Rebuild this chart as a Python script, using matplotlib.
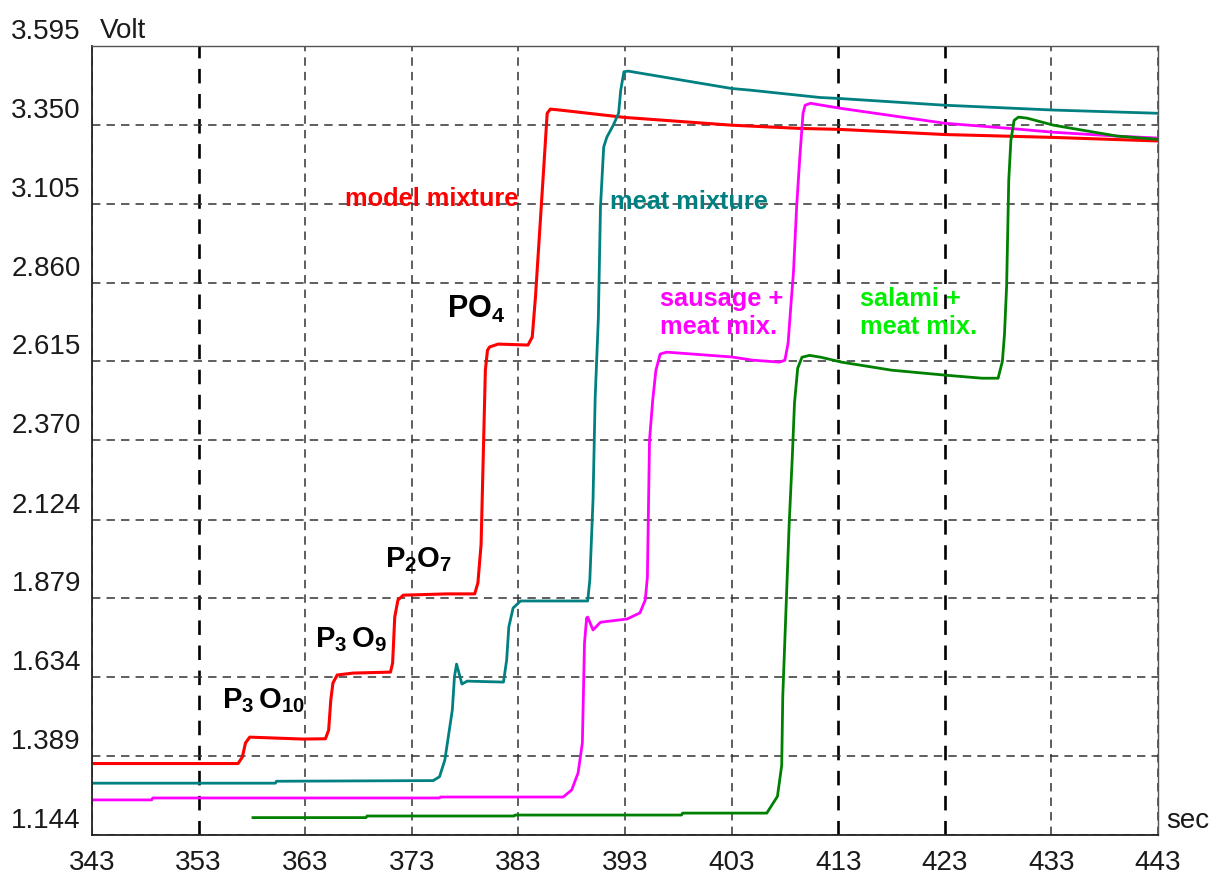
import matplotlib
matplotlib.use("Agg")
import matplotlib.pyplot as plt
import matplotlib.transforms as mtransforms

plt.rcParams["font.family"] = ["Liberation Sans", "DejaVu Sans"]
plt.rcParams["mathtext.fontset"] = "custom"
plt.rcParams["mathtext.rm"] = "Liberation Sans"
plt.rcParams["mathtext.bf"] = "Liberation Sans:bold"

# axis ticks
x_ticks = [343, 353, 363, 373, 383, 393, 403, 413, 423, 433, 443]
y_ticks = [1.144, 1.389, 1.634, 1.879, 2.124, 2.370, 2.615, 2.860, 3.105, 3.350, 3.595]
y_tick_labels = ["1.144", "1.389", "1.634", "1.879", "2.124", "2.370",
                 "2.615", "2.860", "3.105", "3.350", "3.595"]

# model mixture (red)
model_t = [343, 356.7, 357.1, 357.4, 357.8, 360.3, 362.8, 364.9, 365.2, 365.4,
           365.6, 366.0, 367.5, 371.0, 371.2, 371.4, 371.7, 372.2, 376.3, 378.9,
           379.2, 379.5, 379.9, 380.1, 380.3, 381.1, 383.9, 384.3, 384.6, 384.9,
           385.2, 385.5, 385.7, 386.0, 386.9, 393.0, 403.0, 409.4, 413.1, 423.0,
           433.2, 443.0]
model_v = [1.366, 1.366, 1.386, 1.430, 1.448, 1.445, 1.442, 1.443, 1.470, 1.563,
           1.616, 1.641, 1.647, 1.650, 1.678, 1.821, 1.874, 1.889, 1.893, 1.893,
           1.927, 2.047, 2.588, 2.650, 2.660, 2.669, 2.666, 2.691, 2.815, 2.970,
           3.125, 3.281, 3.386, 3.399, 3.396, 3.373, 3.349, 3.339, 3.336, 3.320,
           3.311, 3.300]

# meat mixture (teal)
meat_t = [343, 360.2, 360.3, 375.0, 375.6, 376.1, 376.8, 377.0, 377.2, 377.7,
          378.2, 381.6, 381.9, 382.1, 382.5, 383.2, 389.5, 389.7, 390.0, 390.2,
          390.5, 390.7, 391.0, 391.3, 391.9, 392.4, 392.6, 392.9, 393.3, 403.0,
          404.7, 411.3, 413.1, 423.0, 433.2, 443.0]
meat_v = [1.305, 1.305, 1.311, 1.313, 1.325, 1.377, 1.532, 1.635, 1.675, 1.613,
          1.622, 1.619, 1.688, 1.790, 1.849, 1.871, 1.871, 1.936, 2.185, 2.500,
          2.750, 3.095, 3.281, 3.312, 3.349, 3.386, 3.458, 3.515, 3.517, 3.463,
          3.458, 3.435, 3.432, 3.411, 3.396, 3.386]

# sausage + meat mix. (magenta)
sausage_t = [343, 348.6, 348.7, 375.6, 375.7, 387.2, 388.0, 388.6, 389.0, 389.1,
             389.2, 389.4, 389.5, 390.0, 390.7, 393.2, 394.4, 394.9, 395.1, 395.3,
             395.6, 395.9, 396.3, 396.9, 403.0, 405.0, 407.5, 408.0, 408.3, 408.6,
             408.8, 409.1, 409.4, 409.7, 409.9, 410.4, 413.1, 423.0, 429.1, 433.2,
             439.2, 443.0]
sausage_v = [1.253, 1.253, 1.259, 1.259, 1.262, 1.262, 1.284, 1.337, 1.430, 1.585,
             1.740, 1.818, 1.821, 1.781, 1.805, 1.815, 1.834, 1.874, 1.945, 2.371,
             2.495, 2.588, 2.638, 2.644, 2.629, 2.619, 2.613, 2.619, 2.672, 2.806,
             2.890, 3.095, 3.250, 3.386, 3.411, 3.417, 3.402, 3.355, 3.339, 3.327,
             3.315, 3.309]

# salami + meat mix. (green)
salami_t = [358.1, 368.7, 368.8, 382.6, 382.7, 398.3, 398.4, 406.3, 407.3, 407.7,
            407.8, 408.1, 408.4, 408.7, 408.9, 409.2, 409.6, 410.3, 411.4, 413.3,
            418.0, 423.2, 426.5, 428.0, 428.4, 428.6, 428.8, 429.0, 429.2, 429.5,
            429.9, 430.7, 433.2, 436.0, 439.2, 443.0]
salami_v = [1.198, 1.198, 1.203, 1.203, 1.206, 1.206, 1.212, 1.212, 1.264, 1.360,
            1.574, 1.842, 2.109, 2.323, 2.486, 2.594, 2.628, 2.634, 2.628, 2.613,
            2.588, 2.572, 2.563, 2.563, 2.615, 2.700, 2.850, 3.178, 3.302, 3.364,
            3.374, 3.371, 3.349, 3.333, 3.315, 3.305]

fig = plt.figure(figsize=(12.17, 8.74), dpi=100)
ax = fig.add_axes([92 / 1217, 39 / 874, (1158 - 92) / 1217, (835 - 46) / 874])

ax.plot(model_t, model_v, color="#ff0000", lw=2.2)
ax.plot(meat_t, meat_v, color="#008080", lw=2.0)
ax.plot(sausage_t, sausage_v, color="#ff00ff", lw=2.0)
ax.plot(salami_t, salami_v, color="#008000", lw=2.0)

ax.set_xlim(343, 443)
ax.set_ylim(1.144, 3.595)
ax.set_xticks(x_ticks)
ax.set_yticks(y_ticks)
ax.set_yticklabels(y_tick_labels)
ax.tick_params(length=0, labelsize=20, colors="#1a1a1a")
ax.tick_params(axis="x", pad=11)
ax.tick_params(axis="y", pad=8)

# y labels sit just above their gridlines
offset = mtransforms.ScaledTranslation(0, 0.07, fig.dpi_scale_trans)
for lab in ax.get_yticklabels():
    lab.set_verticalalignment("baseline")
    lab.set_transform(lab.get_transform() + offset)

ax.grid(True, color="#333333", lw=1.1, linestyle=(0, (5.5, 4)))
for i, gl in enumerate(ax.get_xgridlines()):
    if x_ticks[i] in (353, 413, 423):
        gl.set_color("black")
        gl.set_linewidth(1.9)
ax.set_axisbelow(True)

for side in ["top", "right"]:
    ax.spines[side].set_color("#555555")
    ax.spines[side].set_linewidth(1.0)
for side in ["left", "bottom"]:
    ax.spines[side].set_color("#222222")
    ax.spines[side].set_linewidth(1.3)

# curve names
name_size = 18.3
ax.text(366.7, 3.119, "model mixture", color="#ff0000", fontsize=name_size,
        fontweight="bold", va="center", ha="left")
ax.text(391.6, 3.110, "meat mixture", color="#008080", fontsize=name_size,
        fontweight="bold", va="center", ha="left")
ax.text(396.3, 2.765, "sausage +\nmeat mix.", color="#ff00ff", fontsize=name_size,
        fontweight="bold", va="center", ha="left", linespacing=1.2)
ax.text(415.0, 2.765, "salami +\nmeat mix.", color="#00ee00", fontsize=name_size,
        fontweight="bold", va="center", ha="left", linespacing=1.2)

# phosphate species
ax.text(376.3, 2.750, r"$\mathbf{PO}_{\mathbf{4}}$", fontsize=22, va="baseline")
ax.text(370.5, 1.976, r"$\mathbf{P}_{\mathbf{2}}\mathbf{O}_{\mathbf{7}}$", fontsize=21, va="baseline")
ax.text(363.9, 1.728, r"$\mathbf{P}_{\mathbf{3}}\,\mathbf{O}_{\mathbf{9}}$", fontsize=21, va="baseline")
ax.text(355.2, 1.538, r"$\mathbf{P}_{\mathbf{3}}\,\mathbf{O}_{\mathbf{10}}$", fontsize=21, va="baseline")

fig.text(100 / 1217, 1 - 38 / 874, "Volt", fontsize=20, color="#1a1a1a", va="baseline")
fig.text(1166 / 1217, 1 - 828 / 874, "sec", fontsize=20, color="#1a1a1a", va="baseline")

fig.savefig("out.png", dpi=100)
